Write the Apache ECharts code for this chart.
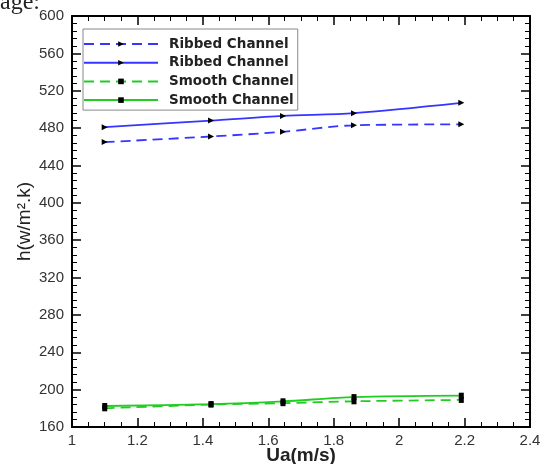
<!DOCTYPE html>
<html><head><meta charset="utf-8">
<script src="https://cdn.jsdelivr.net/npm/echarts@6/dist/echarts.min.js"></script>
<style>html,body{margin:0;padding:0;background:#fff}#c{width:540px;height:464px}</style>
</head><body><div id="c"></div>
<script>
const ua = [1.1, 1.425, 1.645, 1.862, 2.19];
const ribbedDashed = [465, 471, 476, 483, 484];
const ribbedSolid = [481, 488, 493, 496, 507];
const smoothDashed = [180, 184, 185.5, 187.5, 189];
const smoothSolid = [182.5, 184.5, 187.5, 192, 193.5];
const seriesNames = ['Ribbed Channel', 'Ribbed Channel ', 'Smooth Channel', 'Smooth Channel '];
const xTicks = [1, 1.2, 1.4, 1.6, 1.8, 2, 2.2, 2.4];
const yTicks = [160, 200, 240, 280, 320, 360, 400, 440, 480, 520, 560, 600];

const pair = arr => arr.map((v, i) => [ua[i], v]);
const blue = '#3535ff', green = '#22cc22';
const font = 'Liberation Sans, Arial, sans-serif';

function mk(name, data, color, dashed, sym) {
  return {
    name, type: 'line', data: pair(data), smooth: 0.3,
    lineStyle: { color, width: 1.8, type: dashed ? [10, 6] : 'solid' },
    itemStyle: { color: '#000' },
    symbol: sym, symbolSize: sym === 'rect' ? [5, 6] : [6, 6],
    symbolRotate: sym === 'triangle' ? -90 : 0,
    showSymbol: true, z: 3
  };
}
const axisCommon = {
  axisLine: { show: true, lineStyle: { color: '#000', width: 2 } },
  axisTick: { show: true, inside: true, length: 9, lineStyle: { color: '#000', width: 1.5 } },
  minorTick: { show: true, splitNumber: 4, length: 5, lineStyle: { color: '#000', width: 1 } },
  splitLine: { show: false }
};
const yMinor = { minorTick: { show: true, splitNumber: 5, length: 5, lineStyle: { color: '#000', width: 1 } } };
const chart = echarts.init(document.getElementById('c'));
chart.setOption({
  animation: false,
  backgroundColor: '#fff',
  grid: { left: 72, right: 10, top: 16, bottom: 37, containLabel: false, outerBoundsMode: 'none' },
  xAxis: [
    Object.assign({ type: 'value', min: xTicks[0], max: xTicks[xTicks.length - 1], interval: 0.2, position: 'bottom',
      name: 'Ua(m/s)', nameLocation: 'middle', nameGap: 19, nameMoveOverlap: false,
      nameTextStyle: { fontFamily: font, fontSize: 19, fontWeight: 'bold', color: '#222' },
      axisLabel: { fontFamily: font, fontSize: 15, color: '#333', margin: 6 } }, axisCommon),
    Object.assign({ type: 'value', min: xTicks[0], max: xTicks[xTicks.length - 1], interval: 0.2, position: 'top',
      axisLabel: { show: false } }, axisCommon)
  ],
  yAxis: [
    Object.assign({ type: 'value', min: yTicks[0], max: yTicks[yTicks.length - 1], interval: 40, position: 'left',
      name: 'h(w/m\u00b2.k)', nameLocation: 'middle', nameGap: 38, nameMoveOverlap: false,
      nameTextStyle: { fontFamily: font, fontSize: 19, color: '#222' },
      axisLabel: { fontFamily: font, fontSize: 15, color: '#333', margin: 8 } }, axisCommon, yMinor),
    Object.assign({ type: 'value', min: yTicks[0], max: yTicks[yTicks.length - 1], interval: 40, position: 'right',
      axisLabel: { show: false } }, axisCommon, yMinor)
  ],
  legend: {
    show: true, orient: 'vertical', left: 83, top: 29,
    data: seriesNames,
    formatter: n => n.trim(),
    itemWidth: 74, itemHeight: 7, itemGap: 4.7,
    padding: [8, 4, 3, 0],
    borderColor: '#888', borderWidth: 1, backgroundColor: '#fff', borderRadius: 0,
    textStyle: { fontFamily: '"DejaVu Sans", sans-serif', fontSize: 13.5, fontWeight: 'bold', color: '#222', padding: [0, 0, 0, 6] }
  },
  graphic: [{
    type: 'text', left: 0, top: -9,
    style: { text: 'age:', font: '24px "Liberation Serif", "Times New Roman", serif', fill: '#222' }
  }],
  series: [
    mk(seriesNames[0], ribbedDashed, blue, true, 'triangle'),
    mk(seriesNames[1], ribbedSolid, blue, false, 'triangle'),
    mk(seriesNames[2], smoothDashed, green, true, 'rect'),
    mk(seriesNames[3], smoothSolid, green, false, 'rect')
  ]
});
</script></body></html>
